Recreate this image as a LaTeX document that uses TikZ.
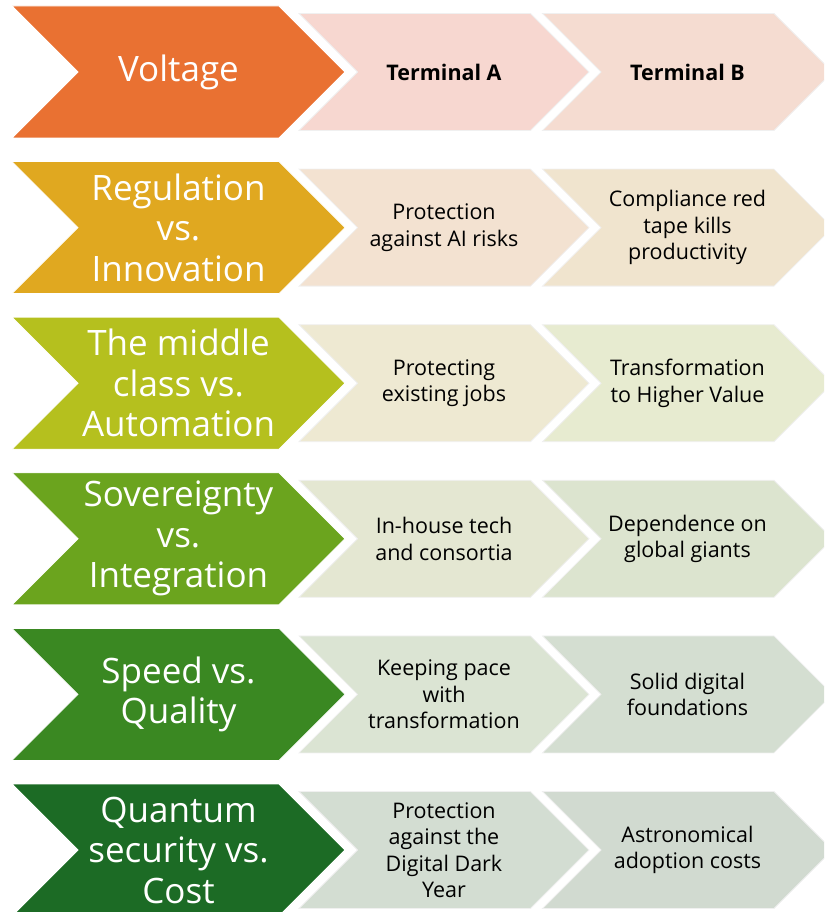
\documentclass[tikz,border=0pt]{standalone}
\usepackage{fontspec}
\setmainfont{Open Sans}
\usetikzlibrary{shapes.symbols}

\definecolor{voltc}{HTML}{E97132}
\definecolor{voltca}{HTML}{F7D7D0}
\definecolor{voltcb}{HTML}{F5DCD1}
\definecolor{regc}{HTML}{E0A820}
\definecolor{regca}{HTML}{F3E2D1}
\definecolor{regcb}{HTML}{F0E4CE}
\definecolor{midc}{HTML}{B5C01E}
\definecolor{midca}{HTML}{EEE9D2}
\definecolor{midcb}{HTML}{E7EBD0}
\definecolor{sovc}{HTML}{6BA41E}
\definecolor{sovca}{HTML}{E4E7D2}
\definecolor{sovcb}{HTML}{DCE4CF}
\definecolor{spdc}{HTML}{3A8822}
\definecolor{spdca}{HTML}{DBE4D3}
\definecolor{spdcb}{HTML}{D4DED1}
\definecolor{qtmc}{HTML}{1C6B25}
\definecolor{qtmca}{HTML}{D3DDD2}
\definecolor{qtmcb}{HTML}{D1DAD0}

\begin{document}
\begin{tikzpicture}[x=1pt, y=-1pt, node distance=155.6pt,
    chev/.style={signal, signal from=west, signal to=east,
      signal pointer angle=90, inner sep=0pt, align=center},
    big/.style={chev, minimum width=333pt, minimum height=132pt,
      draw=white, line width=0.8pt, text=white,
      font=\fontsize{35}{40.5}\selectfont},
    terma/.style={chev, minimum width=290pt, minimum height=117pt,
      draw=black!6, line width=0.8pt, node distance=265.5pt,
      font=\fontsize{21.5}{26.5}\selectfont},
    termb/.style={terma, node distance=243.5pt}]
  \useasboundingbox (0,0) rectangle (824,912);
  \clip (0,0) rectangle (824,912);
  % left column
  \node[big, fill=voltc] (volt) at (178.5,72) {Voltage};
  \node[big, fill=regc, below of=volt] (reg) {Regulation\\vs.\\Innovation};
  \node[big, fill=midc, below of=reg] (mid) {The middle\\class vs.\\Automation};
  \node[big, fill=sovc, below of=mid] (sov) {Sovereignty\\vs.\\Integration};
  \node[big, fill=spdc, below of=sov] (spd) {Speed vs.\\Quality};
  \node[big, fill=qtmc, below of=spd] (qtm) {Quantum\\security vs.\\Cost};
  % terminal A
  \node[terma, fill=voltca, right of=volt] (volta) {\textbf{Terminal A}};
  \node[terma, fill=regca, right of=reg] (rega) {Protection\\against AI risks};
  \node[terma, fill=midca, right of=mid] (mida) {Protecting\\existing jobs};
  \node[terma, fill=sovca, right of=sov] (sova) {In-house tech\\and consortia};
  \node[terma, fill=spdca, right of=spd] (spda) {Keeping pace\\with\\transformation};
  \node[terma, fill=qtmca, right of=qtm] (qtma) {Protection\\against the\\Digital Dark\\Year};
  % terminal B
  \node[termb, fill=voltcb, right of=volta] (voltb) {\textbf{Terminal B}};
  \node[termb, fill=regcb, right of=rega] (regb) {Compliance red\\tape kills\\productivity};
  \node[termb, fill=midcb, right of=mida] (midb) {Transformation\\to Higher Value};
  \node[termb, fill=sovcb, right of=sova] (sovb) {Dependence on\\global giants};
  \node[termb, fill=spdcb, right of=spda] (spdb) {Solid digital\\foundations};
  \node[termb, fill=qtmcb, right of=qtma] (qtmb) {Astronomical\\adoption costs};
\end{tikzpicture}
\end{document}
